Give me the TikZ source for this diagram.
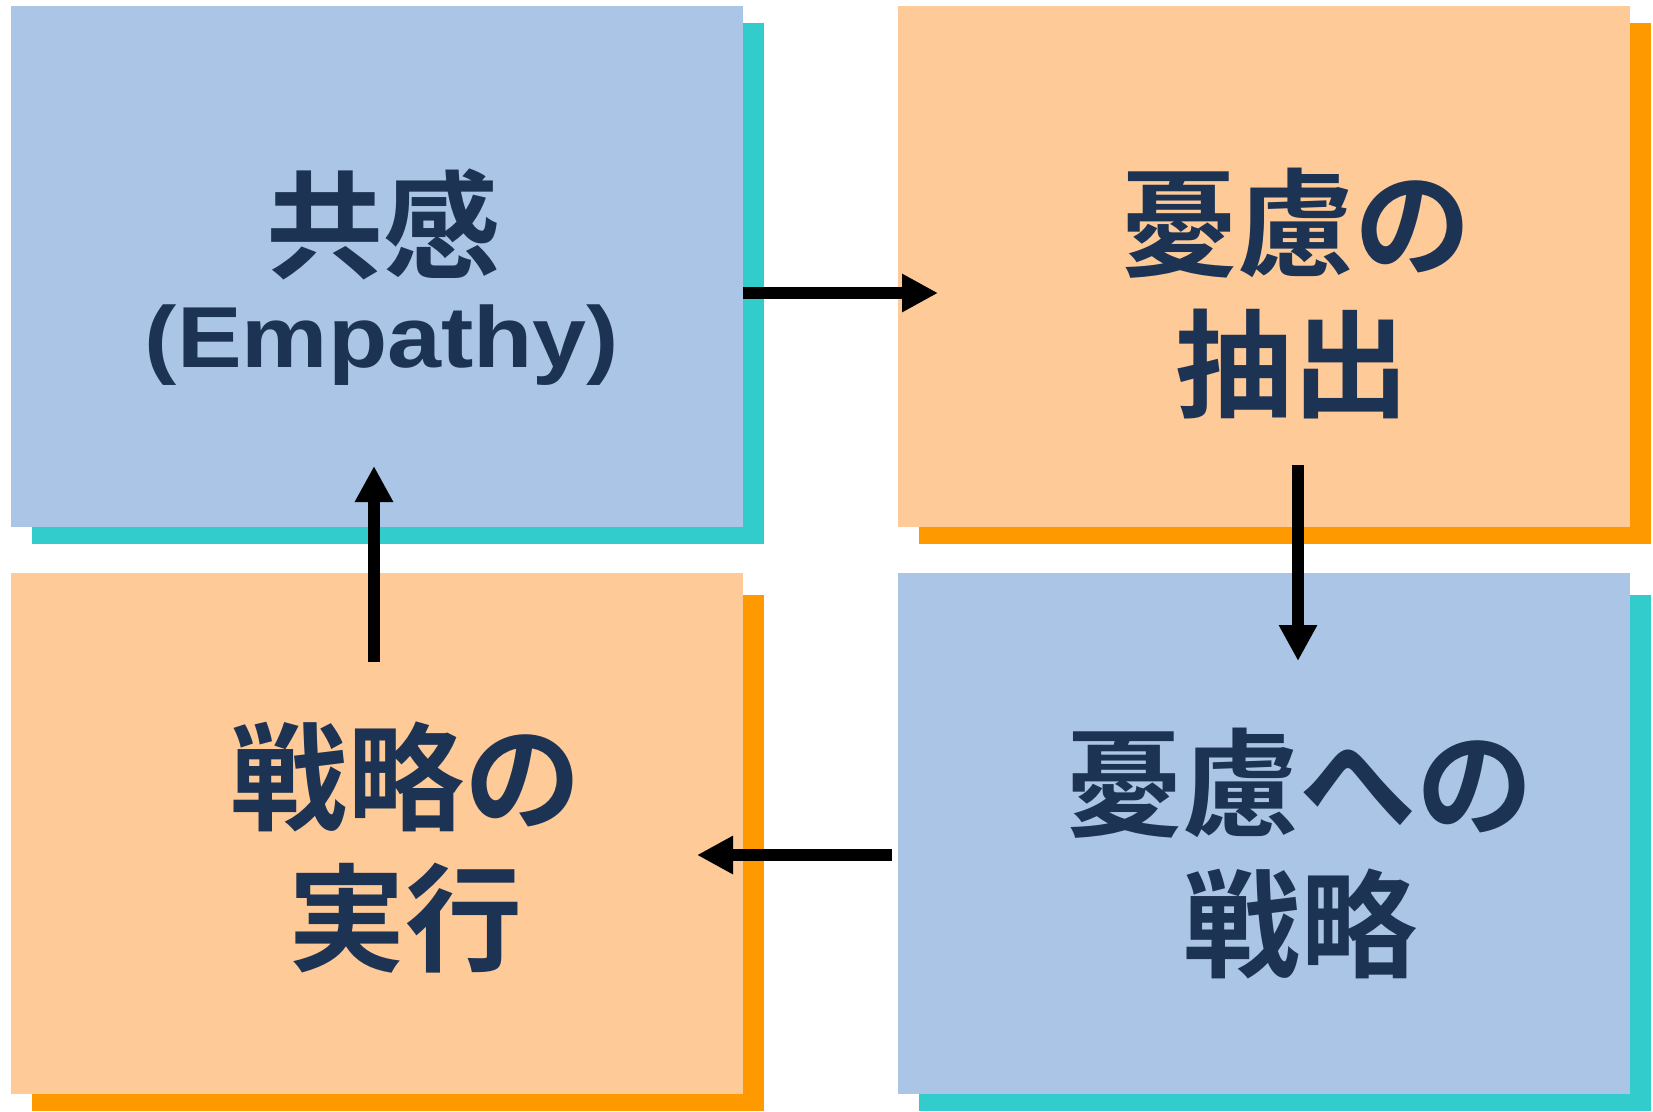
\documentclass[tikz,border=0pt]{standalone}
\usepackage{fontspec}
\usetikzlibrary{arrows.meta}
\newfontfamily\jp{Noto Sans CJK JP}[BoldFont={Noto Sans CJK JP Bold}]
\newfontfamily\latb{Liberation Sans}[FakeStretch=1.12]
\definecolor{boxblue}{RGB}{171,197,230}
\definecolor{boxorange}{RGB}{254,202,152}
\definecolor{shteal}{RGB}{51,204,204}
\definecolor{shorange}{RGB}{255,153,0}
\definecolor{txt}{RGB}{28,51,84}
\tikzset{
  panel/.style={draw=none, inner sep=0pt, outer sep=0pt, anchor=north west,
    minimum width=732pt, minimum height=521pt},
  lowshadow/.style={panel, minimum height=516pt},
  jptext/.style={anchor=base, inner sep=0pt, text=txt,
    font=\jp\bfseries\fontsize{117}{141}\selectfont},
  entext/.style={anchor=base, inner sep=0pt, text=txt,
    font=\latb\bfseries\fontsize{86.6}{100}\selectfont},
  arr/.style={line width=12pt, -{Triangle[length=36pt,width=36pt]}}
}
\begin{document}
\begin{tikzpicture}[x=1pt,y=-1pt]
\useasboundingbox (0,0) rectangle (1653,1111);
% shadows
\node[panel, fill=shteal]   (tls) at (32,23) {};
\node[panel, fill=shorange] (trs) at (919,23) {};
\node[lowshadow, fill=shorange] (bls) at (32,595) {};
\node[lowshadow, fill=shteal]   (brs) at (919,595) {};
% panels
\node[panel, fill=boxblue]   (tl) at (11,6) {};
\node[panel, fill=boxorange] (tr) at (898,6) {};
\node[panel, fill=boxorange] (bl) at (11,573) {};
\node[panel, fill=boxblue]   (br) at (898,573) {};
% texts
\node[jptext] (tlA) at (383,269) {共感};
\node[entext] (tlB) at (382,367) {(Empathy)};
\node[jptext] (trA) at (1295.5,267.5) {憂慮の};
\node[jptext] (trB) at (1292.5,408) {抽出};
\node[jptext] (blA) at (406,821.5) {戦略の};
\node[jptext] (blB) at (405,962) {実行};
\node[jptext] (brA) at (1299,827) {憂慮への};
\node[jptext] (brB) at (1300,968) {戦略};
% arrow end points
\coordinate (a1s) at (743,293);
\coordinate (a1e) at (938,293);
\coordinate (a2s) at (1298,465);
\coordinate (a2e) at (1298,661);
\coordinate (a3s) at (892,855);
\coordinate (a3e) at (697,855);
\coordinate (a4s) at (374,662);
\coordinate (a4e) at (374,466);
\draw[arr] (a1s) -- (a1e);
\draw[arr] (a2s) -- (a2e);
\draw[arr] (a3s) -- (a3e);
\draw[arr] (a4s) -- (a4e);
\end{tikzpicture}
\end{document}
